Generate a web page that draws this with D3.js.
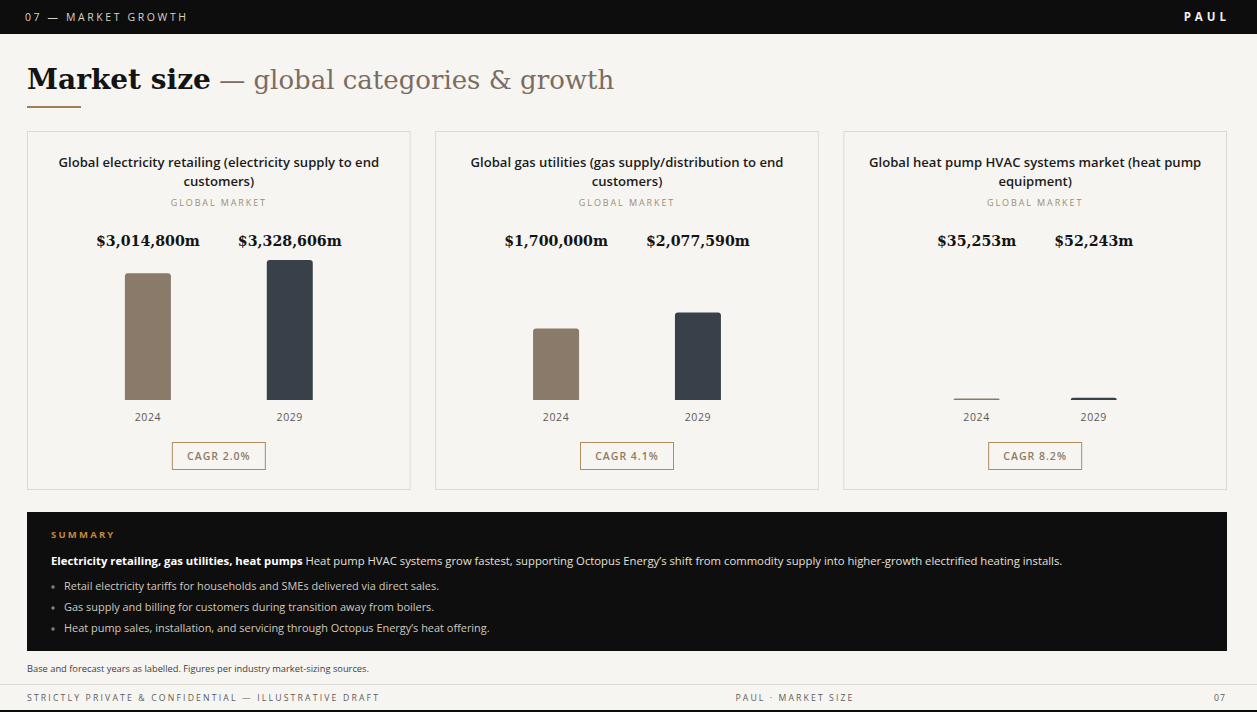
<!DOCTYPE html>
<html><head><meta charset="utf-8">
<script src="https://cdn.jsdelivr.net/npm/d3@7"></script>
<style>
html,body{margin:0;padding:0;background:#f7f5f1;}
svg{display:block;}
</style></head>
<body>
<svg id="chart" width="1257" height="712"></svg>
<script>
// ---- data ----
const sectionLabel = "07 — MARKET GROWTH";
const brand = "PAUL";
const titleBold = "Market size";
const titleRest = " — global categories & growth";
const panelTitles = [
  "Global electricity retailing (electricity supply to end customers)",
  "Global gas utilities (gas supply/distribution to end customers)",
  "Global heat pump HVAC systems market (heat pump equipment)"
];
const panelSub = "GLOBAL MARKET";
const years = ["2024", "2029"];
const values2024 = [3014800, 1700000, 35253];
const values2029 = [3328606, 2077590, 52243];
const cagrLabels = ["CAGR 2.0%", "CAGR 4.1%", "CAGR 8.2%"];
const summaryHead = "SUMMARY";
const summaryLead = "Electricity retailing, gas utilities, heat pumps";
const summaryText = " Heat pump HVAC systems grow fastest, supporting Octopus Energy’s shift from commodity supply into higher-growth electrified heating installs.";
const bullets = [
  "Retail electricity tariffs for households and SMEs delivered via direct sales.",
  "Gas supply and billing for customers during transition away from boilers.",
  "Heat pump sales, installation, and servicing through Octopus Energy’s heat offering."
];
const footnote = "Base and forecast years as labelled. Figures per industry market-sizing sources.";
const footLeft = "STRICTLY PRIVATE & CONFIDENTIAL — ILLUSTRATIVE DRAFT";
const footMid = "PAUL · MARKET SIZE";
const footRight = "07";

// ---- styles ----
const W = 1257, H = 712;
const SANS = "'Open Sans', 'Noto Sans', sans-serif";
const SERIF = "'DejaVu Serif', Georgia, serif";
const barColors = ["#8a7a6a", "#38414a"];

const svg = d3.select("#chart");
svg.append("rect").attr("width", W).attr("height", H).attr("fill", "#f7f5f1");

// top bar
svg.append("rect").attr("width", W).attr("height", 34).attr("fill", "#0d0d0d");
svg.append("text").attr("x", 25).attr("y", 17).attr("dy", "0.35em")
  .attr("font-family", SANS).attr("font-size", 10.5).attr("letter-spacing", 2.6)
  .attr("fill", "#d9d2c4").text(sectionLabel);
svg.append("text").attr("x", 1230).attr("y", 17).attr("dy", "0.35em").attr("text-anchor", "end")
  .attr("font-family", SANS).attr("font-size", 11.5).attr("font-weight", 700).attr("letter-spacing", 4)
  .attr("fill", "#f2efe8").text(brand);

// title
const t = svg.append("text").attr("x", 27).attr("y", 89).attr("font-family", SERIF).attr("font-size", 28);
t.append("tspan").attr("font-weight", 700).attr("fill", "#141414").text(titleBold);
t.append("tspan").attr("fill", "#7a6c62").attr("font-size", 26).text(titleRest);
svg.append("rect").attr("x", 27).attr("y", 106).attr("width", 54).attr("height", 2).attr("fill", "#a27e55");

// panels
const panelX = d3.scaleBand().domain(d3.range(3)).range([27, 1227]).paddingInner(0.06);
const maxV = d3.max(values2024.concat(values2029));
const y = d3.scaleLinear().domain([0, maxV]).range([0, 140]);
const baseY = 400;
const fmt = v => "$" + d3.format(",")(v) + "m";

function wrap(textSel, width) {
  textSel.each(function() {
    const text = d3.select(this);
    const words = text.text().split(/\s+/);
    const x = text.attr("x");
    text.text(null);
    let line = [];
    let tspan = text.append("tspan").attr("x", x).attr("dy", 0);
    words.forEach(w => {
      line.push(w);
      tspan.text(line.join(" "));
      if (tspan.node().getComputedTextLength() > width && line.length > 1) {
        line.pop(); tspan.text(line.join(" "));
        line = [w];
        tspan = text.append("tspan").attr("x", x).attr("dy", 19).text(w);
      }
    });
  });
}

panelTitles.forEach((title, i) => {
  const x0 = panelX(i), pw = panelX.bandwidth(), cx = x0 + pw / 2;
  const g = svg.append("g");
  g.append("rect").attr("x", x0 + 0.5).attr("y", 131.5).attr("width", pw - 1).attr("height", 358)
    .attr("fill", "#f7f5f1").attr("stroke", "#dedad1").attr("stroke-width", 1);
  g.append("text").attr("x", cx).attr("y", 167).attr("text-anchor", "middle")
    .attr("font-family", SANS).attr("font-size", 13.1).attr("font-weight", 600).attr("fill", "#1b1b1b")
    .text(title).call(wrap, 342);
  g.append("text").attr("x", cx).attr("y", 202.5).attr("dy", "0.35em").attr("text-anchor", "middle")
    .attr("font-family", SANS).attr("font-size", 9).attr("letter-spacing", 1.9).attr("fill", "#a08c74")
    .text(panelSub);

  const vals = [values2024[i], values2029[i]];
  const labels = g.selectAll("text.val").data(vals).join("text").attr("class", "val")
    .attr("y", 246).attr("text-anchor", "middle")
    .attr("font-family", SERIF).attr("font-size", 14.2).attr("font-weight", 700).attr("fill", "#141414")
    .text(d => fmt(d));
  const widths = labels.nodes().map(n => n.getComputedTextLength());
  const gap = 38;
  const total = widths[0] + gap + widths[1];
  const start = cx - total / 2;
  const centers = [start + widths[0] / 2, start + widths[0] + gap + widths[1] / 2];
  labels.attr("x", (d, k) => centers[k]);

  const bw = 46, r = 3;
  g.selectAll("path.bar").data(vals).join("path").attr("class", "bar")
    .attr("fill", (d, k) => barColors[k])
    .attr("d", (d, k) => {
      const h = Math.max(1, y(d)), x = centers[k] - bw / 2, rr = Math.min(r, h);
      const p = d3.path();
      p.moveTo(x, baseY);
      p.lineTo(x, baseY - h + rr);
      p.quadraticCurveTo(x, baseY - h, x + rr, baseY - h);
      p.lineTo(x + bw - rr, baseY - h);
      p.quadraticCurveTo(x + bw, baseY - h, x + bw, baseY - h + rr);
      p.lineTo(x + bw, baseY);
      p.closePath();
      return p.toString();
    });
  g.selectAll("text.yr").data(years).join("text").attr("class", "yr")
    .attr("x", (d, k) => centers[k]).attr("y", 417).attr("dy", "0.35em").attr("text-anchor", "middle")
    .attr("font-family", SANS).attr("font-size", 10.5).attr("letter-spacing", 0.6).attr("fill", "#5a5a5a")
    .text(d => d);

  const cg = g.append("g");
  cg.append("rect").attr("x", cx - 47 + 0.5).attr("y", 442.5).attr("width", 93).attr("height", 27)
    .attr("fill", "none").attr("stroke", "#b08c5e").attr("stroke-width", 1);
  cg.append("text").attr("x", cx).attr("y", 456).attr("dy", "0.35em").attr("text-anchor", "middle")
    .attr("font-family", SANS).attr("font-size", 10.5).attr("font-weight", 600).attr("letter-spacing", 1)
    .attr("fill", "#8c7a64").text(cagrLabels[i]);
});

// summary
svg.append("rect").attr("x", 27).attr("y", 512).attr("width", 1200).attr("height", 139).attr("fill", "#0e0e0e");
svg.append("text").attr("x", 51).attr("y", 535).attr("dy", "0.35em")
  .attr("font-family", SANS).attr("font-size", 9.5).attr("font-weight", 700).attr("letter-spacing", 2.2)
  .attr("fill", "#c4883f").text(summaryHead);
const st = svg.append("text").attr("x", 51).attr("y", 561).attr("dy", "0.35em")
  .attr("font-family", SANS).attr("font-size", 11.3);
st.append("tspan").attr("font-weight", 700).attr("fill", "#ffffff").text(summaryLead);
st.append("tspan").attr("fill", "#e4e0d8").text(summaryText);
svg.selectAll("circle.b").data(bullets).join("circle").attr("class", "b")
  .attr("cx", 53).attr("cy", (d, k) => 587 + k * 21).attr("r", 1.7).attr("fill", "#8a8070");
svg.selectAll("text.bl").data(bullets).join("text").attr("class", "bl")
  .attr("x", 64).attr("y", (d, k) => 586 + k * 21).attr("dy", "0.35em")
  .attr("font-family", SANS).attr("font-size", 10.95).attr("fill", "#cfc9be").text(d => d);

// footnote & footer
svg.append("text").attr("x", 27).attr("y", 669).attr("dy", "0.35em")
  .attr("font-family", SANS).attr("font-size", 9.3).attr("fill", "#3d3d3d").text(footnote);
svg.append("rect").attr("x", 0).attr("y", 684).attr("width", W).attr("height", 1).attr("fill", "#dedad2");
svg.append("text").attr("x", 27).attr("y", 698).attr("dy", "0.35em")
  .attr("font-family", SANS).attr("font-size", 8.7).attr("letter-spacing", 2.15).attr("fill", "#5d5d5d").text(footLeft);
svg.append("text").attr("x", 795).attr("y", 698).attr("dy", "0.35em").attr("text-anchor", "middle")
  .attr("font-family", SANS).attr("font-size", 8.7).attr("letter-spacing", 2.1).attr("fill", "#5d5d5d").text(footMid);
svg.append("text").attr("x", 1226).attr("y", 698).attr("dy", "0.35em").attr("text-anchor", "end")
  .attr("font-family", SANS).attr("font-size", 8.7).attr("letter-spacing", 1).attr("fill", "#5d5d5d").text(footRight);
svg.append("rect").attr("x", 0).attr("y", 710).attr("width", W).attr("height", 2).attr("fill", "#0d0d0d");
</script>
</body></html>
